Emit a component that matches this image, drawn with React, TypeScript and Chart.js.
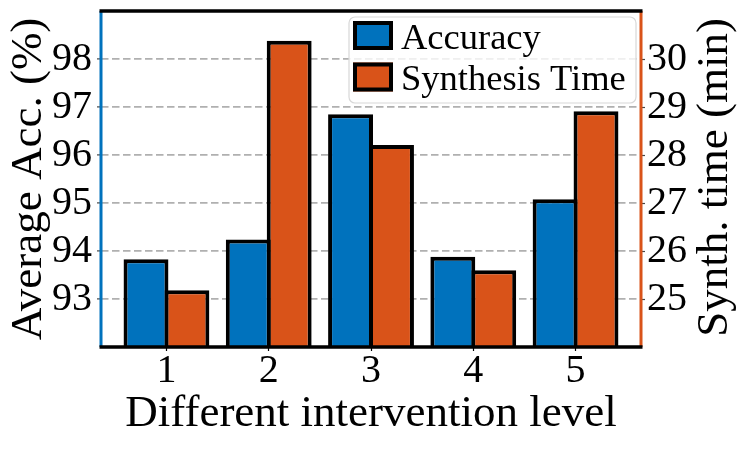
import React, { useEffect, useRef } from 'react';
import { Chart, registerables } from 'chart.js';

Chart.register(...registerables);

// ---- data ----
const categories = [1, 2, 3, 4, 5];
const accuracy = [93.83, 94.24, 96.85, 93.88, 95.08];
const synthesisTime = [25.18, 30.38, 28.21, 25.6, 28.91];
const accTicks = [93, 94, 95, 96, 97, 98];
const timeTicks = [25, 26, 27, 28, 29, 30];
const seriesLabels = ['Accuracy', 'Synthesis Time'];
const xTitle = 'Different intervention level';
const yTitle = 'Average Acc. (%)';
const y1Title = 'Synth. time (min)';

// ---- style ----
const BLUE = '#0072BD';
const ORANGE = '#D95319';
const FONT = "'Liberation Serif', 'Times New Roman', serif";

const zeroPad = (s: any) => {
  s.paddingTop = 0;
  s.paddingBottom = 0;
  s.paddingLeft = 0;
  s.paddingRight = 0;
};

const decorPlugin = {
  id: 'decor',
  afterDraw(chart: any) {
    const { ctx, chartArea: a } = chart;

    // right axis title (reads bottom-to-top)
    ctx.save();
    ctx.font = `45px ${FONT}`;
    ctx.fillStyle = '#000';
    ctx.textAlign = 'center';
    ctx.textBaseline = 'alphabetic';
    ctx.translate(a.right + 86, (a.top + a.bottom) / 2 - 1.5);
    ctx.rotate(-Math.PI / 2);
    ctx.fillText(y1Title, 0, 0);
    ctx.restore();

    // spines
    ctx.save();
    ctx.lineWidth = 3;
    ctx.strokeStyle = BLUE;
    ctx.beginPath();
    ctx.moveTo(a.left, a.top);
    ctx.lineTo(a.left, a.bottom);
    ctx.stroke();
    ctx.strokeStyle = ORANGE;
    ctx.beginPath();
    ctx.moveTo(a.right, a.top);
    ctx.lineTo(a.right, a.bottom);
    ctx.stroke();
    ctx.strokeStyle = '#000';
    ctx.lineWidth = 3.3;
    ctx.beginPath();
    ctx.moveTo(a.left - 1.5, a.top);
    ctx.lineTo(a.right + 1.5, a.top);
    ctx.moveTo(a.left - 1.5, a.bottom);
    ctx.lineTo(a.right + 1.5, a.bottom);
    ctx.stroke();
    ctx.restore();

    // legend
    const bw = 287;
    const bh = 86;
    const x0 = a.right - 5 - bw;
    const y0 = a.top + 6;
    const r = 6;
    ctx.save();
    ctx.beginPath();
    ctx.moveTo(x0 + r, y0);
    ctx.lineTo(x0 + bw - r, y0);
    ctx.arcTo(x0 + bw, y0, x0 + bw, y0 + r, r);
    ctx.lineTo(x0 + bw, y0 + bh - r);
    ctx.arcTo(x0 + bw, y0 + bh, x0 + bw - r, y0 + bh, r);
    ctx.lineTo(x0 + r, y0 + bh);
    ctx.arcTo(x0, y0 + bh, x0, y0 + bh - r, r);
    ctx.lineTo(x0, y0 + r);
    ctx.arcTo(x0, y0, x0 + r, y0, r);
    ctx.closePath();
    ctx.fillStyle = 'rgba(255,255,255,0.8)';
    ctx.fill();
    ctx.lineWidth = 1.2;
    ctx.strokeStyle = '#d8d8d8';
    ctx.stroke();

    chart.data.datasets.forEach((ds: any, i: number) => {
      const sx = x0 + 4;
      const sy = y0 + 4 + i * 41.5;
      ctx.fillStyle = ds.backgroundColor;
      ctx.fillRect(sx, sy, 40, 29);
      ctx.lineWidth = 4;
      ctx.strokeStyle = '#000';
      ctx.strokeRect(sx + 2, sy + 2, 36, 25);
      ctx.fillStyle = '#000';
      ctx.font = `36.5px ${FONT}`;
      ctx.textAlign = 'left';
      ctx.textBaseline = 'alphabetic';
      ctx.fillText(ds.label, x0 + 52, y0 + 31.5 + i * 41.5);
    });
    ctx.restore();
  },
};

export default function App() {
  const ref = useRef<HTMLCanvasElement>(null);

  useEffect(() => {
    if (!ref.current) return;
    const barCommon = {
      borderColor: '#000',
      borderWidth: 4,
      borderSkipped: 'start',
      inflateAmount: 0,
      categoryPercentage: 0.8,
      barPercentage: 1.098,
    };
    const chart = new Chart(ref.current, {
      type: 'bar',
      data: {
        datasets: [
          {
            ...barCommon,
            label: seriesLabels[0],
            data: categories.map((c, i) => ({ x: c, y: accuracy[i] })),
            backgroundColor: BLUE,
            yAxisID: 'y',
          },
          {
            ...barCommon,
            label: seriesLabels[1],
            data: categories.map((c, i) => ({ x: c, y: synthesisTime[i] })),
            backgroundColor: ORANGE,
            yAxisID: 'y1',
          },
        ] as any,
      },
      options: {
        animation: false,
        responsive: false,
        layout: { padding: { top: 11, left: 0, right: 0, bottom: 0 }, autoPadding: false },
        plugins: { legend: { display: false }, tooltip: { enabled: false } },
        scales: {
          x: {
            type: 'linear',
            position: 'bottom',
            min: 0.36,
            max: 5.64,
            offset: false,
            afterBuildTicks: (s: any) => {
              s.ticks = categories.map((v) => ({ value: v }));
            },
            afterFit: (s: any) => {
              s.height = 102;
              zeroPad(s);
            },
            ticks: {
              color: '#000',
              font: { size: 40, family: FONT, lineHeight: 1 },
              padding: 0,
              autoSkip: false,
              maxRotation: 0,
              minRotation: 0,
              callback: (v: any) => String(v),
            },
            grid: {
              offset: false,
              drawOnChartArea: false,
              drawTicks: true,
              tickLength: 4,
              tickColor: '#000',
              tickWidth: 1.2,
            },
            border: { display: false },
            title: {
              display: true,
              text: xTitle,
              color: '#000',
              font: { size: 45, family: FONT, lineHeight: 1.2 },
              padding: { top: 0, bottom: 8 },
            },
          },
          y: {
            type: 'linear',
            position: 'left',
            min: 92,
            max: 99,
            beginAtZero: false,
            afterBuildTicks: (s: any) => {
              s.ticks = accTicks.map((v) => ({ value: v }));
            },
            afterFit: (s: any) => {
              s.width = 101;
              zeroPad(s);
            },
            ticks: { color: '#000', font: { size: 40, family: FONT }, padding: 5 },
            grid: {
              color: '#b0b0b0',
              lineWidth: 1.8,
              drawTicks: true,
              tickLength: 4,
              tickColor: '#444',
              tickWidth: 1.2,
              tickBorderDash: [],
            },
            border: { display: false, dash: [7.5, 3.5] },
            title: {
              display: true,
              text: yTitle,
              color: '#000',
              font: { size: 45, family: FONT, lineHeight: 1.2 },
              padding: { top: 2, bottom: 0 },
            },
          },
          y1: {
            type: 'linear',
            position: 'right',
            min: 24,
            max: 31,
            beginAtZero: false,
            afterBuildTicks: (s: any) => {
              s.ticks = timeTicks.map((v) => ({ value: v }));
            },
            afterFit: (s: any) => {
              s.width = 106;
              zeroPad(s);
            },
            ticks: { color: '#000', font: { size: 40, family: FONT }, padding: 2 },
            grid: { drawOnChartArea: false, drawTicks: true, tickLength: 4, tickColor: '#444', tickWidth: 1.2 },
            border: { display: false },
          },
        },
      } as any,
      plugins: [decorPlugin],
    });
    return () => chart.destroy();
  }, []);

  return (
    <div style={{ position: 'fixed', left: 0, top: 0, width: 747, height: 449, background: '#fff' }}>
      <canvas ref={ref} width={747} height={449} style={{ display: 'block' }} />
    </div>
  );
}
